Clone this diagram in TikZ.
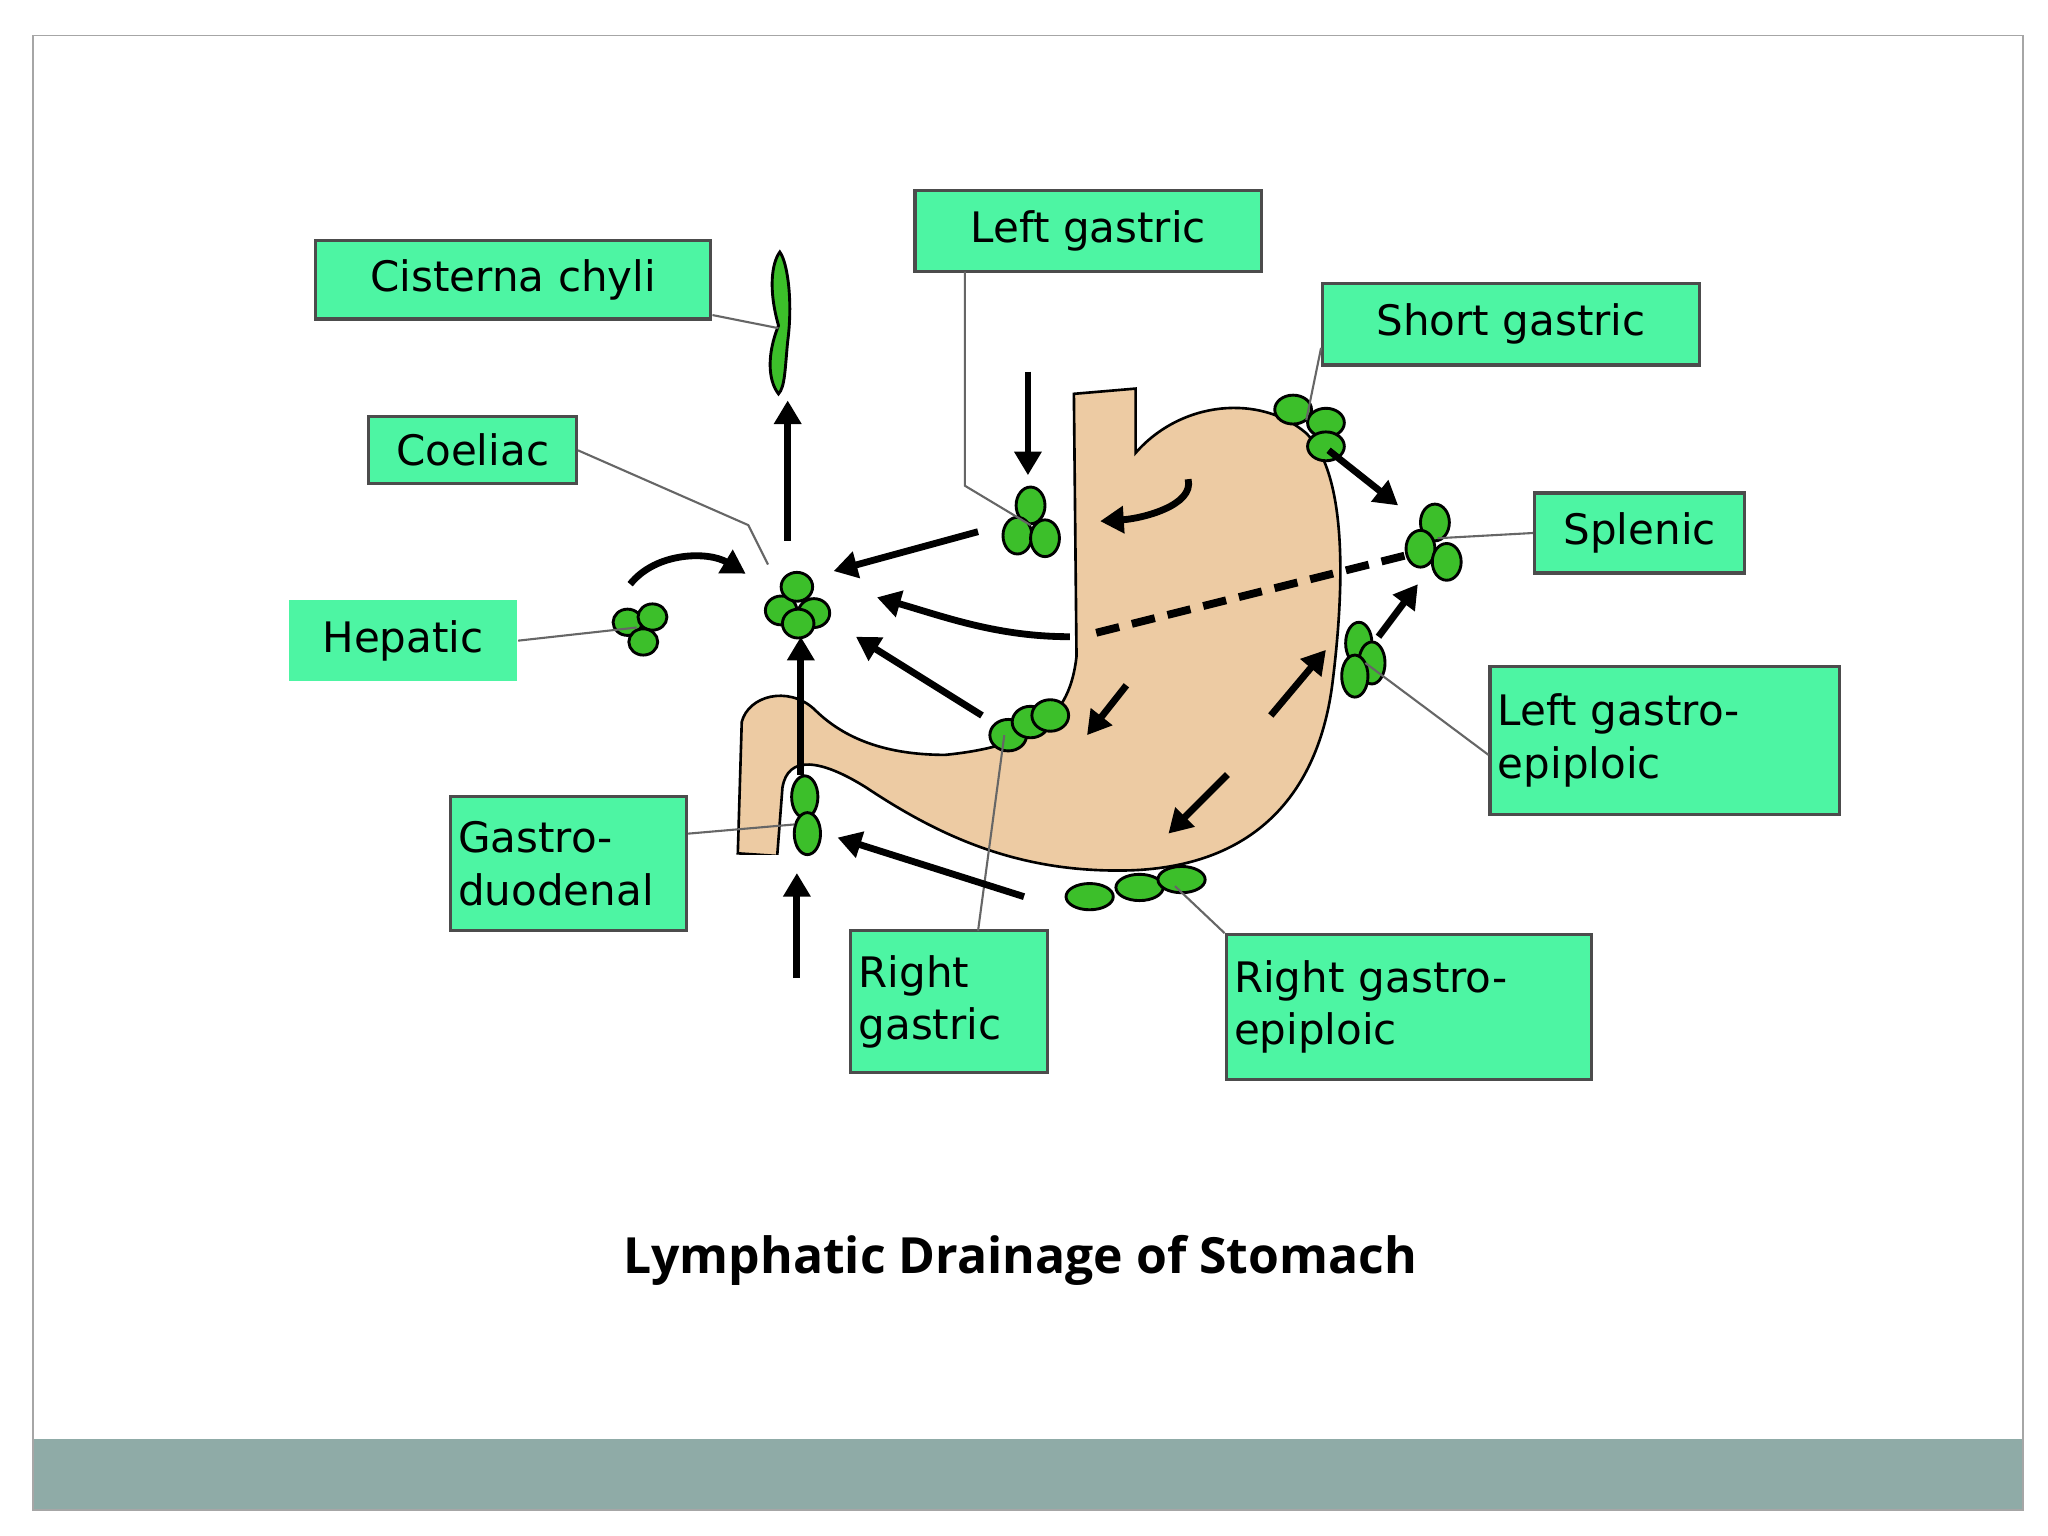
\documentclass[tikz,border=0pt]{standalone}
\usepackage{fontspec}
\setmainfont{DejaVu Sans}
\newfontfamily\titlefont{Open Sans}
\usetikzlibrary{arrows.meta}
\definecolor{boxg}{HTML}{4DF5A3}
\definecolor{blobg}{HTML}{3CBF2A}
\definecolor{tan}{HTML}{EDCBA3}
\definecolor{band}{HTML}{8FABA7}
\begin{document}
\begin{tikzpicture}[x=0.5pt,y=-0.5pt,
 box/.style={draw=black!70,line width=1.2pt,fill=boxg,inner sep=3pt,font=\fontsize{16}{20}\selectfont,align=left,anchor=center},
 blob/.style={draw=black,line width=1.1pt,fill=blobg},
 arr/.style={line width=2.6pt,-{Triangle[length=9pt,width=10pt]}},
 lead/.style={draw=black!60,line width=0.8pt}]
\useasboundingbox (0,0) rectangle (1560,1170);
\fill[white] (0,0) rectangle (1560,1170);
\fill[band] (25,1096) rectangle (1541,1150);
\draw[black!35,line width=0.6pt] (25,27) rectangle (1541,1150);
% stomach
\fill[tan,draw=black,line width=1pt] (818,300) -- (820,500) .. controls (815,545) and (790,568) .. (720,575)
 .. controls (670,575) and (640,560) .. (620,540) .. controls (600,522) and (570,530) .. (565,550)
 -- (562,650) -- (592,652) -- (596,600) .. controls (600,575) and (625,578) .. (660,600)
 .. controls (720,640) and (780,665) .. (860,663) .. controls (960,660) and (1005,600) .. (1015,520)
 .. controls (1025,440) and (1025,360) .. (995,330) .. controls (960,300) and (900,305) .. (865,345)
 -- (865,296) -- cycle;
\fill[white] (555,651) rectangle (600,665);
% labels
\node[box,minimum width=150.5pt,minimum height=30pt] (cis) at (391,213) {Cisterna chyli};
\node[box,minimum width=132pt,minimum height=31pt] (lg) at (829,176) {Left gastric};
\node[box,minimum width=143.5pt,minimum height=31pt] (sg) at (1151,247) {Short gastric};
\node[box,minimum width=79pt,minimum height=25.5pt] (coe) at (360,343) {Coeliac};
\node[box,minimum width=80pt,minimum height=30.5pt] (spl) at (1249,406) {Splenic};
\node[box,draw=none,minimum width=86.5pt,minimum height=31pt] (hep) at (307,488) {Hepatic};
\node[box,text width=127pt,minimum height=56.5pt] (lge) at (1268,564) {Left gastro-\\epiploic};
\node[box,text width=84pt,minimum height=51pt] (gd) at (433,658) {Gastro-\\duodenal};
\node[box,text width=69pt,minimum height=54pt] (rg) at (723,763) {Right\\gastric};
\node[box,text width=133pt,minimum height=55pt] (rge) at (1073,767) {Right gastro-\\epiploic};
\node[font=\titlefont\bfseries\fontsize{19}{23}\selectfont] (title) at (777,960) {Lymphatic Drainage of Stomach};
% blobs
\draw[blob] (593,248) .. controls (585,220) and (588,200) .. (594,192) .. controls (600,200) and (604,230) .. (600,260)
 .. controls (598,280) and (598,295) .. (593,300) .. controls (585,290) and (584,270) .. (593,248) -- cycle;
\coordinate (cisn) at (593,250);
\foreach \p in {(595,465),(620,467),(607,447),(608,475)} \draw[blob] \p ellipse (6pt and 5.5pt);
\coordinate (coen) at (605,460);
\foreach \p in {(785,385),(775,408),(796,410)} \draw[blob] \p ellipse (5.5pt and 7pt);
\coordinate (lgn) at (785,400);
\foreach \p in {(985,312),(1010,322),(1010,340)} \draw[blob] \p ellipse (7pt and 5.5pt);
\coordinate (sgn) at (995,320);
\foreach \p in {(1093,398),(1082,418),(1102,428)} \draw[blob] \p ellipse (5.5pt and 7pt);
\coordinate (spln) at (1095,410);
\foreach \p in {(478,474),(497,470),(490,489)} \draw[blob] \p ellipse (5.5pt and 5pt);
\coordinate (hepn) at (485,478);
\foreach \p in {(1035,490),(1045,505),(1032,515)} \draw[blob] \p ellipse (5pt and 8pt);
\coordinate (lgen) at (1040,505);
\foreach \p in {(768,560),(785,550),(800,545)} \draw[blob] \p ellipse (7pt and 6pt);
\coordinate (rgn) at (765,560);
\foreach \p in {(613,607),(615,635)} \draw[blob] \p ellipse (5pt and 8pt);
\coordinate (gdn) at (605,628);
\foreach \p in {(830,683),(868,676),(900,670)} \draw[blob] \p ellipse (9pt and 5pt);
\coordinate (rgen) at (895,675);
% leaders
\draw[lead] (cis.east |- 0,240) -- (cisn);
\draw[lead] (735,207) -- (735,370) -- (lgn);
\draw[lead] (sg.west |- 0,265) -- (sgn);
\draw[lead] (coe.east) -- (570,400) -- (585,430);
\draw[lead] (spl.west) -- (spln);
\draw[lead] (hep.east) -- (hepn);
\draw[lead] (lge.west |- 0,575) -- (lgen);
\draw[lead] (gd.east |- 0,635) -- (gdn);
\draw[lead] (745,709) -- (rgn);
\draw[lead] (rge.north west) -- (rgen);
% arrows
\draw[arr] (600,412) -- (600,305);
\draw[arr] (783,283) -- (783,362);
\draw[arr] (905,365) .. controls (910,385) and (870,395) .. (838,397);
\draw[arr] (745,405) -- (635,435);
\draw[arr] (815,485) .. controls (760,485) and (720,470) .. (668,455);
\draw[arr] (748,545) -- (652,485);
\draw[arr] (610,590) -- (610,485);
\draw[arr] (480,445) .. controls (500,420) and (540,420) .. (568,437);
\draw[arr] (1012,343) -- (1065,385);
\draw[arr] (1050,485) -- (1080,445);
\draw[line width=3pt,dash pattern=on 9pt off 5pt] (835,482) -- (1075,422);
\draw[arr] (858,522) -- (828,560);
\draw[arr] (968,545) -- (1010,495);
\draw[arr] (935,590) -- (890,635);
\draw[arr] (780,683) -- (638,638);
\draw[arr] (607,745) -- (607,665);
\end{tikzpicture}
\end{document}
